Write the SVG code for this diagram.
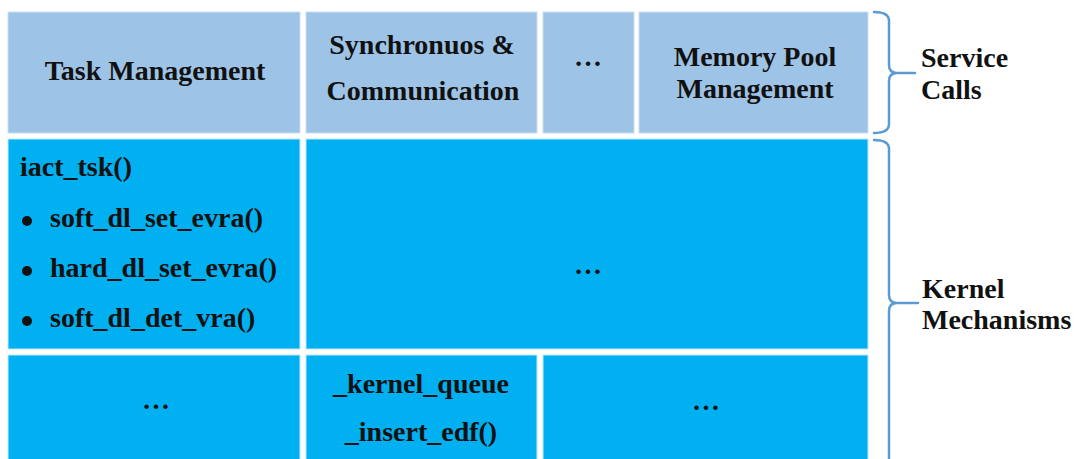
<svg xmlns="http://www.w3.org/2000/svg" width="1079" height="459" viewBox="0 0 1079 459">
<style>
.svc{fill:#9DC3E6;stroke:#C9DFF2;stroke-width:1}
.ker{fill:#00B0F0;stroke:#BDE9FA;stroke-width:1}
.t{font-family:"Liberation Serif","Times New Roman",serif;font-weight:bold;font-size:28px;fill:#111}
.c{text-anchor:middle}
.brace{fill:none;stroke:#5B9BD5;stroke-width:2.5;stroke-linecap:round}
</style>
<rect width="1079" height="459" fill="#fff"/>
<g id="task-management"><rect class="svc" x="8" y="12" width="292" height="121"/><text class="t c" x="155" y="80">Task Management</text></g>
<g id="sync-comm"><rect class="svc" x="306" y="12" width="231" height="121"/><text class="t c" x="422" y="54">Synchronuos &amp;</text><text class="t c" x="423" y="100">Communication</text></g>
<g id="svc-more"><rect class="svc" x="543" y="12" width="91" height="121"/><text class="t c" x="588" y="66">…</text></g>
<g id="memory-pool"><rect class="svc" x="639" y="12" width="229" height="121"/><text class="t c" x="755" y="66">Memory Pool</text><text class="t c" x="755" y="98">Management</text></g>
<g id="iact-tsk"><rect class="ker" x="8" y="139" width="292" height="210"/>
<text class="t" x="20" y="176">iact_tsk()</text>
<circle cx="27" cy="221" r="5" fill="#111"/><text class="t" x="50" y="227">soft_dl_set_evra()</text>
<circle cx="27" cy="271" r="5" fill="#111"/><text class="t" x="50" y="277">hard_dl_set_evra()</text>
<circle cx="27" cy="321" r="5" fill="#111"/><text class="t" x="50" y="327">soft_dl_det_vra()</text>
</g>
<g id="kernel-more"><rect class="ker" x="306" y="139" width="562" height="210"/><text class="t c" x="588" y="274">…</text></g>
<g id="bottom-left"><rect class="ker" x="8" y="355" width="292" height="110"/><text class="t c" x="156" y="409">…</text></g>
<g id="kernel-queue"><rect class="ker" x="306" y="355" width="231" height="110"/><text class="t c" x="421" y="393">_kernel_queue</text><text class="t c" x="421" y="441">_insert_edf()</text></g>
<g id="bottom-right"><rect class="ker" x="543" y="355" width="325" height="110"/><text class="t c" x="706" y="410">…</text></g>
<g id="connectors">
<path class="brace" d="M874,12 Q889,12 889,21 L889,65 Q889,73 897,73 L915,73 M897,73 Q889,73 889,81 L889,124 Q889,133 874,133"/>
<path class="brace" d="M874,140 Q889,140 889,149 L889,295 Q889,303 897,303 L918,303 M897,303 Q889,303 889,311 L889,470"/>
</g>
<g id="labels">
<text class="t" x="921" y="67">Service</text><text class="t" x="921" y="99">Calls</text>
<text class="t" x="922" y="298">Kernel</text><text class="t" x="922" y="329">Mechanisms</text>
</g>
</svg>
